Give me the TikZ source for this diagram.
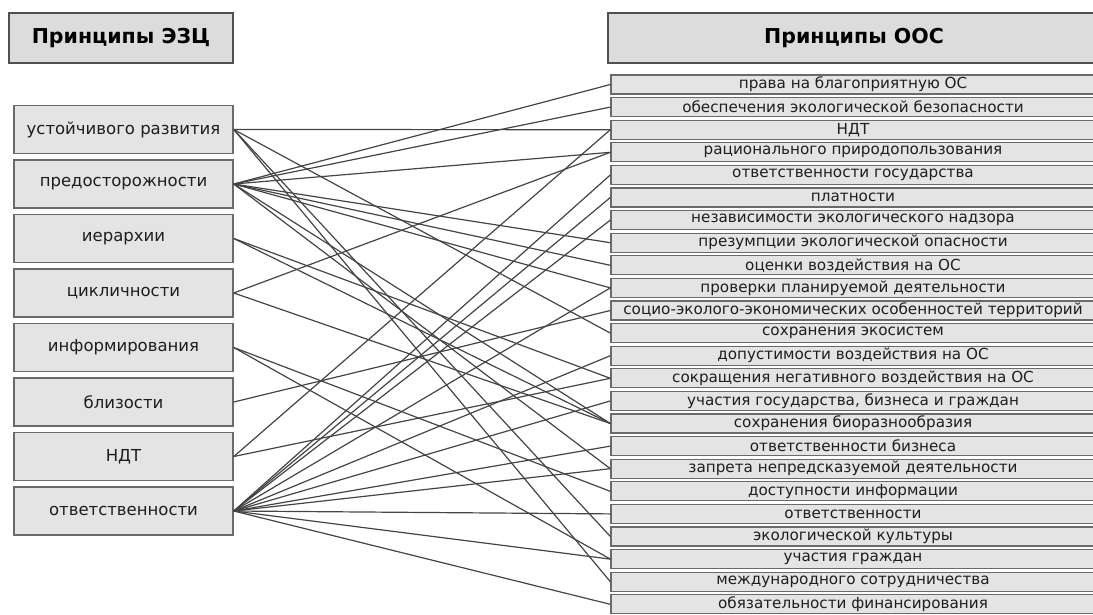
\documentclass[tikz,border=0pt]{standalone}
\usepackage{fontspec}
\setmainfont{DejaVu Sans}
\definecolor{boxfill}{HTML}{E4E4E4}
\definecolor{titlefill}{HTML}{DCDCDC}
\definecolor{boxborder}{HTML}{6A6A6A}
\definecolor{titleborder}{HTML}{505050}
\definecolor{linecol}{HTML}{444444}
\definecolor{txt}{HTML}{1E1E1E}
\begin{document}
\begin{tikzpicture}[x=1pt,y=-1pt,
  lbox/.style={draw=boxborder, line width=1.5pt, fill=boxfill, minimum width=219pt, minimum height=48pt, inner sep=0pt, text=txt, font=\fontsize{16.5}{19}\selectfont},
  rbox/.style={draw=boxborder, line width=1.3pt, fill=boxfill, minimum width=484pt, minimum height=19pt, inner sep=0pt, text=txt, font=\fontsize{15.2}{17}\selectfont},
  tbox/.style={draw=titleborder, line width=2.8pt, fill=titlefill, minimum height=50pt, inner sep=0pt, text=black, font=\bfseries\fontsize{20.5}{24}\selectfont},
  link/.style={draw=linecol, line width=1.2pt}]
\useasboundingbox (0,0) rectangle (1093,614);
\clip (0,0) rectangle (1093,614);
% titles
\node[tbox, minimum width=224pt] (TL) at (121,38) {Принципы ЭЗЦ};
\node[tbox, minimum width=492pt] (TR) at (854,38) {Принципы ООС};
% left column
\foreach \i/\t in {1/устойчивого развития,2/предосторожности,3/иерархии,4/цикличности,5/информирования,6/близости,7/НДТ,8/ответственности}
  \node[lbox] (L\i) at (123.5,{129.5+(\i-1)*54.5}) {\t};
% right column
\foreach \i/\t in {1/права на благоприятную ОС,2/обеспечения экологической безопасности,3/НДТ,4/рационального природопользования,5/ответственности государства,6/платности,7/независимости экологического надзора,8/презумпции экологической опасности,9/оценки воздействия на ОС,10/проверки планируемой деятельности,11/социо-эколого-экономических особенностей территорий,12/сохранения экосистем,13/допустимости воздействия на ОС,14/сокращения негативного воздействия на ОС,15/{участия государства, бизнеса и граждан},16/сохранения биоразнообразия,17/ответственности бизнеса,18/запрета непредсказуемой деятельности,19/доступности информации,20/ответственности,21/экологической культуры,22/участия граждан,23/международного сотрудничества,24/обязательности финансирования}
  \node[rbox] (R\i) at (853,{84.5+(\i-1)*22.6}) {\t};
% connectors
\foreach \s/\t in {1/3,1/12,1/21,1/23,
  2/1,2/2,2/4,2/8,2/9,2/10,2/16,2/18,
  3/14,3/16,
  4/4,4/16,
  5/19,5/22,
  6/11,
  7/3,7/14,
  8/5,8/6,8/7,8/10,8/13,8/15,8/17,8/18,8/20,8/22,8/24}
  \draw[link] (L\s.east) -- (R\t.west);
\end{tikzpicture}
\end{document}
